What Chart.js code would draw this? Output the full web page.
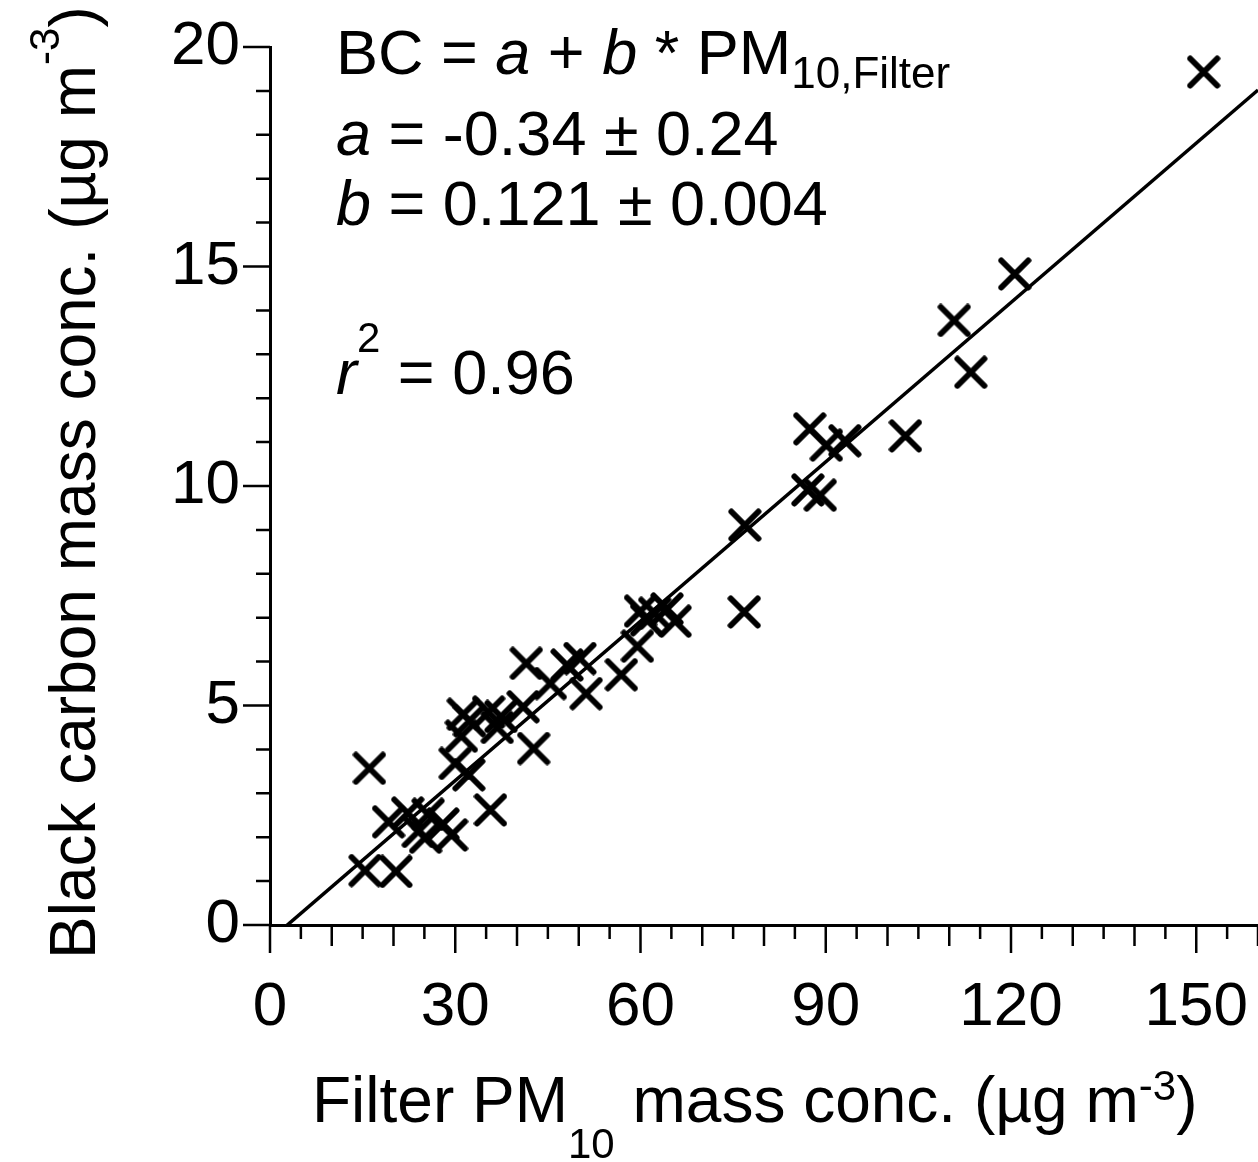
<!DOCTYPE html>
<html>
<head>
<meta charset="utf-8">
<script src="https://cdn.jsdelivr.net/npm/chart.js@4/dist/chart.umd.min.js"></script>
<style>
  html, body { margin: 0; padding: 0; background: #fff; }
  canvas { display: block; }
</style>
</head>
<body>
<canvas id="bcChart" width="1258" height="1162"></canvas>
<script>
// Filter PM10 mass conc. (x) and black carbon mass conc. (y), both in ug m-3
var pm10 = [151.2, 120.6, 110.8, 113.5, 102.9, 87.4, 90.1, 93.1, 87.1, 89.1,
            76.9, 76.8, 60.0, 61.0, 62.3, 64.3, 65.6, 59.5, 56.9, 50.2,
            48.1, 51.2, 45.4, 41.5, 41.0, 42.7, 31.3, 32.3, 35.4, 37.4,
            36.8, 31.0, 30.0, 32.2, 35.7, 15.4, 20.4, 19.2, 22.3, 24.0,
            25.6, 25.2, 28.0, 29.4, 16.1];
var bc   = [19.43, 14.83, 13.77, 12.59, 11.14, 11.30, 10.93, 11.03, 9.91, 9.79,
            9.11, 7.13, 7.15, 6.95, 7.10, 7.20, 6.92, 6.35, 5.70, 6.07,
            5.92, 5.27, 5.50, 5.96, 4.97, 4.02, 4.80, 4.65, 4.85, 4.75,
            4.50, 4.30, 3.68, 3.42, 2.62, 1.24, 1.22, 2.35, 2.55, 2.13,
            2.52, 2.00, 2.30, 2.05, 3.57];

// regression BC = a + b * PM10
var fitA = -0.34;
var fitB = 0.121;

var xTicks = [0, 30, 60, 90, 120, 150];
var yTicks = [0, 5, 10, 15, 20];
var xMax = 160;
var yMax = 20;

var points = pm10.map(function (v, i) { return { x: v, y: bc[i] }; });
var fitLine = [{ x: 0, y: fitA }, { x: xMax, y: fitA + fitB * xMax }];

var FONT = '"Liberation Sans", Arial, sans-serif';

function makeCross(size, lw) {
  var c = document.createElement('canvas');
  c.width = size; c.height = size;
  var g = c.getContext('2d');
  var m = lw / 2 + 0.5;
  g.strokeStyle = '#000';
  g.lineWidth = lw;
  g.lineCap = 'round';
  g.beginPath();
  g.moveTo(m, m); g.lineTo(size - m, size - m);
  g.moveTo(size - m, m); g.lineTo(m, size - m);
  g.stroke();
  return c;
}
var crossMark = makeCross(34, 6);

// text with sub/superscripts, optionally rotated
function drawRich(ctx, x, y, parts, rotate) {
  ctx.save();
  ctx.translate(x, y);
  if (rotate) ctx.rotate(rotate);
  ctx.fillStyle = '#000';
  ctx.textBaseline = 'alphabetic';
  ctx.textAlign = 'left';
  var cx = 0;
  parts.forEach(function (p) {
    ctx.font = (p.it ? 'italic ' : '') + p.size + 'px ' + FONT;
    ctx.fillText(p.t, cx, p.dy || 0);
    cx += ctx.measureText(p.t).width;
  });
  ctx.restore();
}

var axisDecor = {
  id: 'axisDecor',
  afterDraw: function (chart) {
    var ctx = chart.ctx;
    var xs = chart.scales.x, ys = chart.scales.y;
    var x0 = xs.getPixelForValue(0), y0 = ys.getPixelForValue(0);
    ctx.save();
    ctx.strokeStyle = '#000';
    ctx.lineWidth = 2.5;
    ctx.beginPath();
    for (var v = 0; v <= yMax; v++) {
      var py = ys.getPixelForValue(v);
      var len = v % 5 === 0 ? 27 : 14;
      ctx.moveTo(x0 - len, py); ctx.lineTo(x0, py);
    }
    for (var u = 0; u <= xMax; u += 5) {
      var px = xs.getPixelForValue(u);
      var l2 = u % 30 === 0 ? 28 : (u % 10 === 0 ? 21 : 14);
      ctx.moveTo(px, y0); ctx.lineTo(px, y0 + l2);
    }
    ctx.stroke();
    ctx.restore();

    // regression annotation
    drawRich(ctx, 336, 74, [
      { t: 'BC = ', size: 63 }, { t: 'a', size: 63, it: true }, { t: ' + ', size: 63 },
      { t: 'b', size: 63, it: true }, { t: ' * PM', size: 63 },
      { t: '10,Filter', size: 44, dy: 14 }
    ]);
    drawRich(ctx, 336, 155, [
      { t: 'a', size: 63, it: true }, { t: ' = -0.34 \u00b1 0.24', size: 63 }
    ]);
    drawRich(ctx, 336, 225, [
      { t: 'b', size: 63, it: true }, { t: ' = 0.121 \u00b1 0.004', size: 63 }
    ]);
    drawRich(ctx, 336, 394, [
      { t: 'r', size: 63, it: true }, { t: '2', size: 42, dy: -42 }, { t: ' = 0.96', size: 63 }
    ]);

    // axis titles
    drawRich(ctx, 312, 1122, [
      { t: 'Filter PM', size: 64 }, { t: '10', size: 42, dy: 36 },
      { t: ' mass conc. (\u00b5g m', size: 64 }, { t: '-3', size: 42, dy: -22 },
      { t: ')', size: 64 }
    ]);
    drawRich(ctx, 95, 959, [
      { t: 'Black carbon mass conc. (\u00b5g m', size: 64 }, { t: '-3', size: 42, dy: -36 },
      { t: ')', size: 64 }
    ], -Math.PI / 2);
  }
};

function noPad(s) { s.paddingLeft = 0; s.paddingRight = 0; s.paddingTop = 0; s.paddingBottom = 0; }

var ctx = document.getElementById('bcChart');
var myChart = new Chart(ctx, {
  type: 'scatter',
  data: {
    datasets: [
      {
        data: points,
        pointStyle: crossMark,
        pointRadius: 16,
        pointHoverRadius: 16,
        showLine: false
      },
      {
        type: 'line',
        data: fitLine,
        borderColor: '#000',
        borderWidth: 3.5,
        pointRadius: 0,
        fill: false,
        clip: 0
      }
    ]
  },
  options: {
    responsive: false,
    animation: false,
    devicePixelRatio: 1,
    layout: { autoPadding: false, padding: { top: 47, left: 0, right: 0, bottom: 0 } },
    plugins: { legend: { display: false }, tooltip: { enabled: false } },
    scales: {
      x: {
        type: 'linear',
        min: 0, max: xMax,
        afterFit: function (s) { s.height = 237; noPad(s); },
        border: { display: true, color: '#000', width: 3 },
        grid: { drawOnChartArea: false, drawTicks: true, tickLength: 28, tickColor: 'rgba(0,0,0,0)' },
        ticks: {
          stepSize: 30, includeBounds: false, padding: 18, color: '#000',
          font: { family: FONT, size: 62 },
          callback: function (v) { return xTicks.indexOf(v) >= 0 ? String(v) : null; }
        }
      },
      y: {
        type: 'linear',
        min: 0, max: yMax,
        afterFit: function (s) { s.width = 270; noPad(s); },
        border: { display: true, color: '#000', width: 3 },
        grid: { drawOnChartArea: false, drawTicks: true, tickLength: 27, tickColor: 'rgba(0,0,0,0)' },
        ticks: {
          stepSize: 5, padding: 3, color: '#000',
          font: { family: FONT, size: 62 },
          callback: function (v) { return yTicks.indexOf(v) >= 0 ? String(v) : null; }
        }
      }
    }
  },
  plugins: [axisDecor]
});
</script>
</body>
</html>
